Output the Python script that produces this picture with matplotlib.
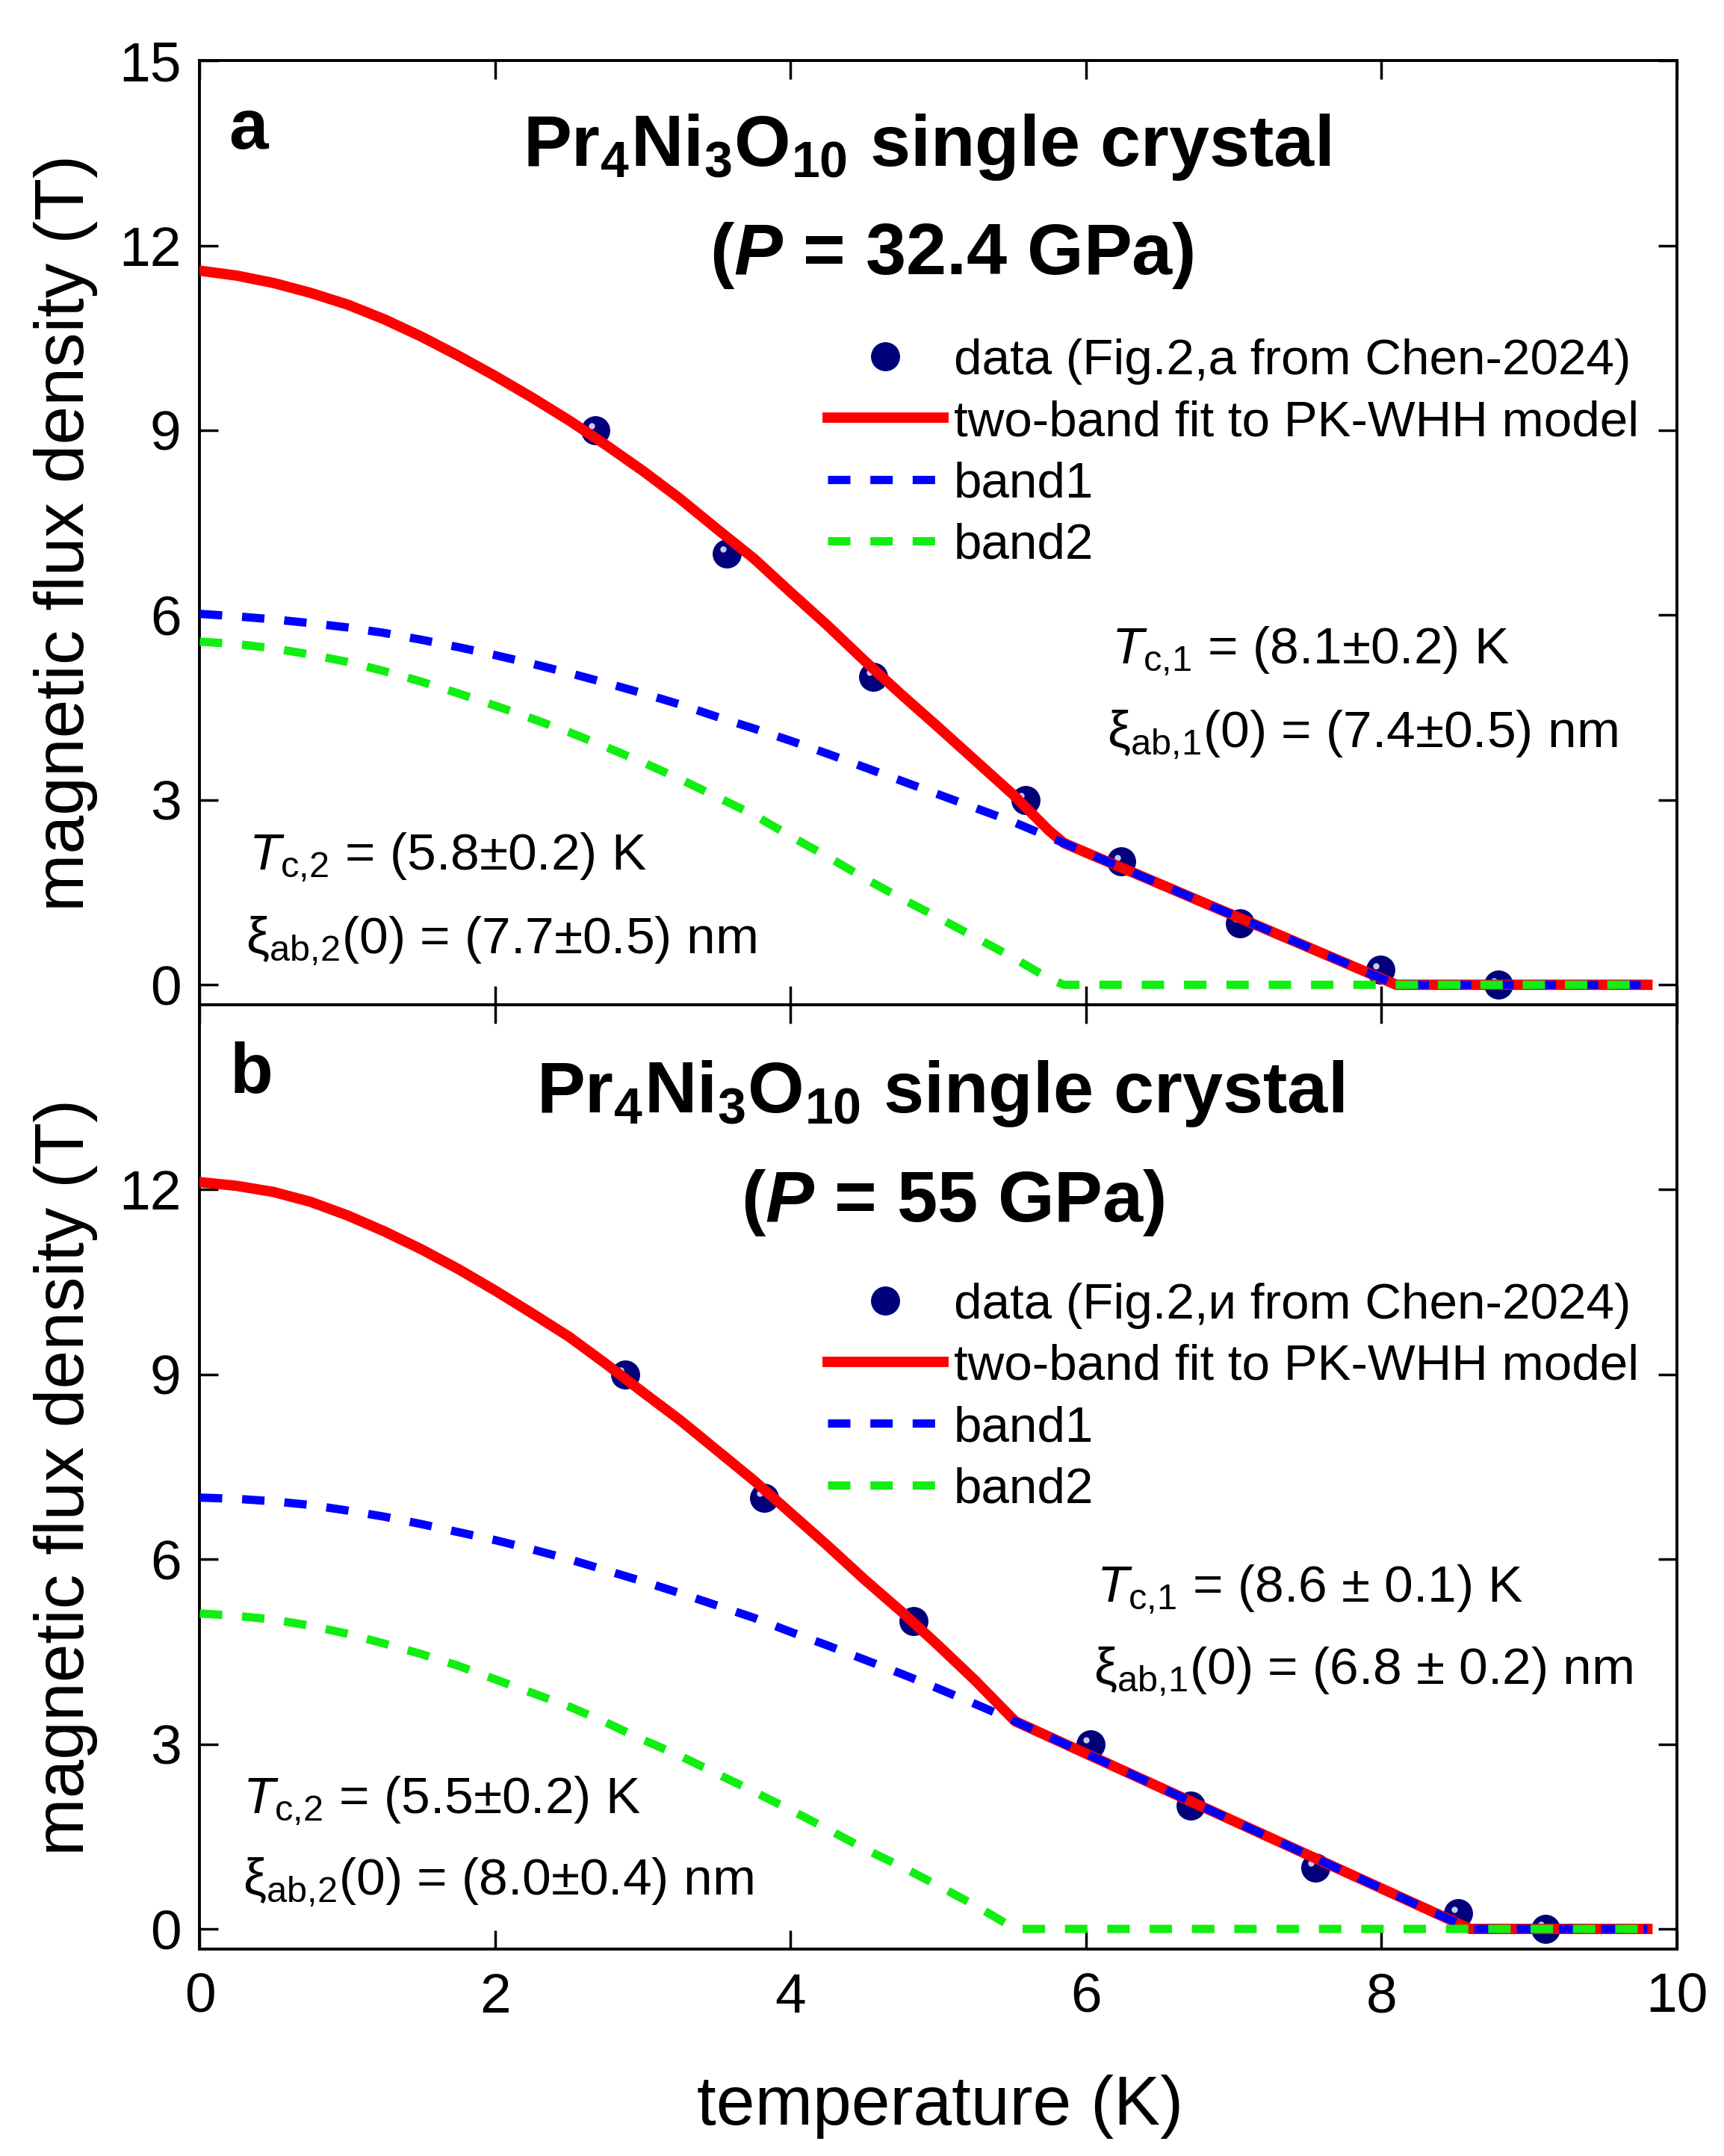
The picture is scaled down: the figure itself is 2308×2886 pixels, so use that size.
import numpy as np
import matplotlib
matplotlib.use("Agg")
import matplotlib.pyplot as plt
from matplotlib.transforms import offset_copy

plt.rcParams['font.family'] = 'Liberation Sans'
plt.rcParams['mathtext.fontset'] = 'custom'
plt.rcParams['mathtext.rm'] = 'Liberation Sans'
plt.rcParams['mathtext.it'] = 'Liberation Sans:italic'
plt.rcParams['mathtext.bf'] = 'Liberation Sans:bold'
plt.rcParams['mathtext.bfit'] = 'Liberation Sans:bold:italic'

# ---------------- panel a : P = 32.4 GPa ----------------
temp_a = [0, 0.25, 0.5, 0.75, 1.0, 1.25, 1.5, 1.75, 2.0, 2.25, 2.5, 2.75, 3.0, 3.25,
          3.5, 3.75, 4.0, 4.25, 4.5, 4.75, 5.0, 5.25, 5.5, 5.75, 5.85, 8.1, 9.8]
band1_a = [6.02, 5.98, 5.93, 5.87, 5.80, 5.71, 5.60, 5.48, 5.35, 5.21, 5.06, 4.90, 4.73, 4.55,
           4.35, 4.16, 3.96, 3.75, 3.53, 3.31, 3.09, 2.87, 2.65, 2.40, 2.30, 0.0, 0.0]
band2_a = [5.57, 5.53, 5.46, 5.36, 5.24, 5.09, 4.92, 4.73, 4.53, 4.32, 4.10, 3.86, 3.61, 3.34,
           3.05, 2.76, 2.41, 2.08, 1.73, 1.40, 1.09, 0.77, 0.45, 0.10, 0.0, 0.0, 0.0]
fit_a = [11.59, 11.51, 11.39, 11.23, 11.04, 10.80, 10.52, 10.21, 9.88, 9.53, 9.16, 8.76, 8.34, 7.89,
         7.40, 6.92, 6.37, 5.83, 5.26, 4.71, 4.18, 3.64, 3.10, 2.50, 2.30, 0.0, 0.0]
data_t_a = [2.68, 3.57, 4.56, 5.59, 6.24, 7.04, 7.99, 8.79]
data_b_a = [9.0, 7.0, 5.0, 3.0, 2.0, 1.0, 0.24, 0.0]

# ---------------- panel b : P = 55 GPa ----------------
temp_b = [0, 0.25, 0.5, 0.75, 1.0, 1.25, 1.5, 1.75, 2.0, 2.25, 2.5, 2.75, 3.0, 3.25,
          3.5, 3.75, 4.0, 4.25, 4.5, 4.75, 5.0, 5.25, 5.52, 8.6, 9.8]
band1_b = [7.00, 6.98, 6.94, 6.88, 6.79, 6.69, 6.57, 6.44, 6.31, 6.16, 6.00, 5.82, 5.64, 5.45,
           5.25, 5.05, 4.82, 4.60, 4.37, 4.14, 3.90, 3.65, 3.37, 0.0, 0.0]
band2_b = [5.12, 5.08, 5.02, 4.92, 4.79, 4.63, 4.46, 4.27, 4.05, 3.83, 3.61, 3.35, 3.07, 2.81,
           2.52, 2.23, 1.93, 1.62, 1.30, 1.01, 0.70, 0.38, 0.0, 0.0, 0.0]
fit_b = [12.12, 12.06, 11.96, 11.80, 11.58, 11.32, 11.03, 10.71, 10.36, 9.99, 9.61, 9.17, 8.71, 8.26,
         7.77, 7.28, 6.75, 6.22, 5.67, 5.15, 4.60, 4.03, 3.37, 0.0, 0.0]
data_t_b = [2.88, 3.82, 4.83, 6.03, 6.71, 7.55, 8.52, 9.11]
data_b_b = [9.0, 7.0, 5.0, 3.0, 2.0, 1.0, 0.25, 0.0]

xticks = [0, 2, 4, 6, 8, 10]
yticks = [0, 3, 6, 9, 12, 15]

RED = '#ff0000'
BLUE = '#0000ff'
GREEN = '#11ee11'
NAVY = '#00007a'


def draw_panel(ax, temp, b1, b2, fit, dt, db, data_label):
    ax.plot(dt, db, 'o', ms=27, color=NAVY, mec=NAVY, zorder=2, label=data_label)
    hl = offset_copy(ax.transData, fig=ax.figure, x=-4, y=4, units='points')
    ax.plot(dt, db, 'o', ms=6, color='#c8c8f0', mec='none', transform=hl, zorder=2.1)
    ax.plot(temp, fit, '-', color=RED, lw=10, zorder=3, solid_joinstyle='round',
            label='two-band fit to PK-WHH model')
    ax.plot(temp, b1, color=BLUE, lw=8, dashes=(2.7, 2.4), zorder=4, label='band1')
    ax.plot(temp, b2, color=GREEN, lw=8, dashes=(2.7, 2.4), zorder=5, label='band2')

    ax.set_xlim(0, 10)
    ax.set_ylim(-0.33, 15)
    ax.set_xticks(xticks)
    ax.set_yticks(yticks)
    ax.tick_params(direction='in', length=18, width=2.5, top=True, right=True,
                   labelsize=54)
    ax.tick_params(axis='y', pad=18)
    ax.tick_params(axis='x', pad=22)
    for s in ax.spines.values():
        s.set_linewidth(2.8)

    ax.legend(loc='upper left', bbox_to_anchor=(0.425, 0.706), frameon=False,
              fontsize=48.5, handlelength=2.3, handletextpad=0.21, labelspacing=0.3,
              borderpad=0, borderaxespad=0, numpoints=1)

    ax.set_ylabel('magnetic flux density (T)', fontsize=67)
    ax.yaxis.set_label_coords(-0.069, 0.5)


fig = plt.figure(figsize=(23.08, 28.86), dpi=100)
ax_a = fig.add_axes([0.1159, 0.5338, 0.8568, 0.4381])
ax_b = fig.add_axes([0.1159, 0.0959, 0.8568, 0.4381])

draw_panel(ax_a, temp_a, band1_a, band2_a, fit_a, data_t_a, data_b_a,
           'data (Fig.2,a from Chen-2024)')
draw_panel(ax_b, temp_b, band1_b, band2_b, fit_b, data_t_b, data_b_b,
           'data (Fig.2,и from Chen-2024)')

ax_a.tick_params(labelbottom=False)
ax_b.set_yticks([0, 3, 6, 9, 12])
ax_b.set_xlabel('temperature (K)', fontsize=67)
ax_b.xaxis.set_label_coords(0.501, -0.133)

title1 = r'Pr$_\mathbf{4}$Ni$_\mathbf{3}$O$_\mathbf{10}$ single crystal'
kw_t = dict(fontsize=70, fontweight='bold', ha='center', va='center')
kw_n = dict(fontsize=50, ha='left', va='center')

# panel a texts
ax_a.text(0.033, 0.926, 'a', transform=ax_a.transAxes, fontsize=68, fontweight='bold',
          ha='center', va='center')
ax_a.text(0.492, 0.908, title1, transform=ax_a.transAxes, **kw_t)
ax_a.text(0.509, 0.794, r'($\mathbfit{P}$ = 32.4 GPa)', transform=ax_a.transAxes, **kw_t)
ax_a.text(0.617, 0.375, r'$\mathit{T}_{\mathrm{c{,}1}}$ = (8.1±0.2) K', transform=ax_a.transAxes, **kw_n)
ax_a.text(0.614, 0.286, r'ξ$_{\mathrm{ab{,}1}}$(0) = (7.4±0.5) nm', transform=ax_a.transAxes, **kw_n)
ax_a.text(0.033, 0.156, r'$\mathit{T}_{\mathrm{c{,}2}}$ = (5.8±0.2) K', transform=ax_a.transAxes, **kw_n)
ax_a.text(0.031, 0.068, r'ξ$_{\mathrm{ab{,}2}}$(0) = (7.7±0.5) nm', transform=ax_a.transAxes, **kw_n)

# panel b texts
ax_b.text(0.035, 0.927, 'b', transform=ax_b.transAxes, fontsize=68, fontweight='bold',
          ha='center', va='center')
ax_b.text(0.501, 0.906, title1, transform=ax_b.transAxes, **kw_t)
ax_b.text(0.510, 0.790, r'($\mathbfit{P}$ = 55 GPa)', transform=ax_b.transAxes, **kw_t)
ax_b.text(0.607, 0.381, r'$\mathit{T}_{\mathrm{c{,}1}}$ = (8.6 ± 0.1) K', transform=ax_b.transAxes, **kw_n)
ax_b.text(0.605, 0.294, r'ξ$_{\mathrm{ab{,}1}}$(0) = (6.8 ± 0.2) nm', transform=ax_b.transAxes, **kw_n)
ax_b.text(0.029, 0.157, r'$\mathit{T}_{\mathrm{c{,}2}}$ = (5.5±0.2) K', transform=ax_b.transAxes, **kw_n)
ax_b.text(0.029, 0.071, r'ξ$_{\mathrm{ab{,}2}}$(0) = (8.0±0.4) nm', transform=ax_b.transAxes, **kw_n)

fig.savefig('out.png', dpi=100)
